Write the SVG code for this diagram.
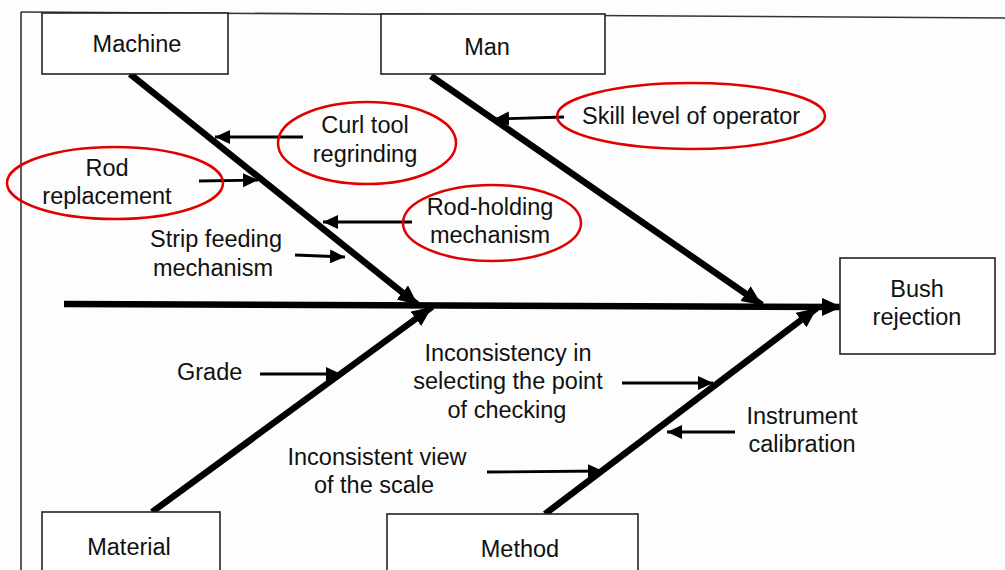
<svg xmlns="http://www.w3.org/2000/svg" width="1005" height="570" viewBox="0 0 1005 570">
<style>
text{font-family:"Liberation Sans",Arial,sans-serif;font-size:23.5px;fill:#111;}
.c{text-anchor:middle;}
.box{fill:#fff;stroke:#222;stroke-width:1.6;}
.bone{stroke:#000;stroke-width:6.5;fill:none;}
.sub{stroke:#000;stroke-width:2.8;fill:none;}
.ell{fill:none;stroke:#e00000;stroke-width:2.5;}
</style>
<defs>
<marker id="big" markerUnits="userSpaceOnUse" markerWidth="26" markerHeight="22" refX="20" refY="9" orient="auto">
<path d="M0,0 L20,9 L0,18 Z" fill="#000"/>
</marker>
<marker id="sm" markerUnits="userSpaceOnUse" markerWidth="18" markerHeight="16" refX="15" refY="7" orient="auto">
<path d="M0,0 L15,7 L0,14 Z" fill="#000"/>
</marker>
</defs>
<rect width="1005" height="570" fill="#fdfdfd"/>
<g id="frame">
<line x1="21" y1="12" x2="21" y2="570" stroke="#333" stroke-width="1.6"/>
<line x1="21" y1="12" x2="1005" y2="18" stroke="#333" stroke-width="1.6"/>
</g>
<g id="connectors">
<line class="bone" x1="64" y1="304" x2="842" y2="307" stroke-width="8" marker-end="url(#big)"/>
<line class="bone" x1="130" y1="74" x2="418" y2="305" marker-end="url(#big)"/>
<line class="bone" x1="431" y1="76" x2="762" y2="305" marker-end="url(#big)"/>
<line class="bone" x1="152" y1="512" x2="432" y2="307" marker-end="url(#big)"/>
<line class="bone" x1="545" y1="514" x2="817" y2="308" marker-end="url(#big)"/>
<line class="sub" x1="303" y1="137" x2="215" y2="137" marker-end="url(#sm)"/>
<line class="sub" x1="199" y1="181" x2="258" y2="180" marker-end="url(#sm)"/>
<line class="sub" x1="412" y1="222" x2="323" y2="222" marker-end="url(#sm)"/>
<line class="sub" x1="295" y1="255" x2="345" y2="257" marker-end="url(#sm)"/>
<line class="sub" x1="564" y1="117" x2="494" y2="119" marker-end="url(#sm)"/>
<line class="sub" x1="260" y1="374" x2="341" y2="374" marker-end="url(#sm)"/>
<line class="sub" x1="622" y1="383" x2="713" y2="383" marker-end="url(#sm)"/>
<line class="sub" x1="735" y1="432" x2="667" y2="432" marker-end="url(#sm)"/>
<line class="sub" x1="487" y1="472" x2="603" y2="471" marker-end="url(#sm)"/>
</g>
<g id="machine"><rect class="box" x="42" y="13" width="186" height="61"/><text class="c" x="137" y="52">Machine</text></g>
<g id="man"><rect class="box" x="381" y="14" width="224" height="60"/><text class="c" x="487" y="55">Man</text></g>
<g id="material"><rect class="box" x="42" y="512" width="178" height="70"/><text class="c" x="129" y="555">Material</text></g>
<g id="method"><rect class="box" x="387" y="514" width="251" height="70"/><text class="c" x="520" y="557">Method</text></g>
<g id="bush"><rect class="box" x="840" y="258" width="155" height="96"/><text class="c" x="917" y="297">Bush</text><text class="c" x="917" y="325">rejection</text></g>
<g id="curl"><ellipse class="ell" cx="367" cy="143" rx="89" ry="41"/><text class="c" x="365" y="133">Curl tool</text><text class="c" x="365" y="162">regrinding</text></g>
<g id="rod"><ellipse class="ell" cx="115" cy="183" rx="108" ry="36"/><text class="c" x="107" y="176">Rod</text><text class="c" x="107" y="204">replacement</text></g>
<g id="rodholding"><ellipse class="ell" cx="492" cy="223" rx="89" ry="38"/><text class="c" x="490" y="215">Rod-holding</text><text class="c" x="490" y="243">mechanism</text></g>
<g id="strip"><text class="c" x="216" y="247">Strip feeding</text><text class="c" x="213" y="276">mechanism</text></g>
<g id="skill"><ellipse class="ell" cx="691" cy="116" rx="134" ry="33"/><text x="582" y="124">Skill level of operator</text></g>
<g id="grade"><text x="177" y="380">Grade</text></g>
<g id="inconsistency"><text class="c" x="508" y="361">Inconsistency in</text><text class="c" x="508" y="389">selecting the point</text><text class="c" x="507" y="418">of checking</text></g>
<g id="instrument"><text class="c" x="802" y="424">Instrument</text><text class="c" x="802" y="452">calibration</text></g>
<g id="view"><text class="c" x="377" y="465">Inconsistent view</text><text class="c" x="374" y="493">of the scale</text></g>
</svg>
